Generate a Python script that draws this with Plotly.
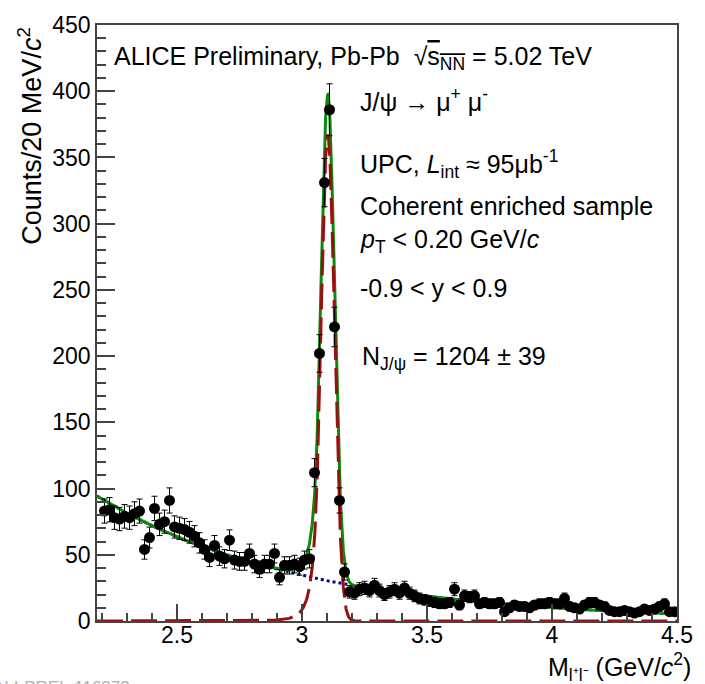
import numpy as np
import plotly.graph_objects as go

# Dimuon invariant-mass spectrum, 20 MeV/c^2 bins from 2.20 to 4.50 GeV/c^2
N_BINS = 115
mass = np.round(2.21 + 0.02 * np.arange(N_BINS), 2)

counts = [
    83, 84, 78, 77, 79, 78, 81, 83, 54, 63,
    85, 73, 75, 91, 71, 70, 69, 67, 64, 59,
    54, 48, 57, 49, 47, 61, 46, 45, 45, 51,
    43, 39, 43, 43, 51, 33, 42, 42, 43, 41,
    46, 47, 112, 202, 331, 386, 222, 91, 37, 22,
    21, 24, 25, 23, 27, 23, 20, 22, 24, 21,
    25, 21, 19, 17, 16, 15, 14, 13, 13, 14,
    24, 12, 19, 18, 19, 13, 14, 13, 13, 14,
    7, 10, 12, 11, 11, 10, 12, 13, 13, 14,
    13, 13, 17, 11, 10, 9, 12, 14, 14, 12,
    11, 8, 7, 7, 8, 7, 6, 7, 9, 8,
    9, 11, 13, 7, 7,
]

count_errors = [
    9.1, 9.2, 8.8, 8.8, 8.9, 8.8, 9.0, 9.1, 7.3, 7.9,
    9.2, 8.5, 8.7, 9.5, 8.4, 8.4, 8.3, 8.2, 8.0, 7.7,
    7.3, 6.9, 7.5, 7.0, 6.9, 7.8, 6.8, 6.7, 6.7, 7.1,
    6.6, 6.2, 6.6, 6.6, 7.1, 5.7, 6.5, 6.5, 6.6, 6.4,
    6.8, 6.9, 10.6, 14.2, 18.2, 19.6, 14.9, 9.5, 6.1, 4.7,
    4.6, 4.9, 5.0, 4.8, 5.2, 4.8, 4.5, 4.7, 4.9, 4.6,
    5.0, 4.6, 4.4, 4.1, 4.0, 3.9, 3.7, 3.6, 3.6, 3.7,
    4.9, 3.5, 4.4, 4.2, 4.4, 3.6, 3.7, 3.6, 3.6, 3.7,
    2.6, 3.2, 3.5, 3.3, 3.3, 3.2, 3.5, 3.6, 3.6, 3.7,
    3.6, 3.6, 4.1, 3.3, 3.2, 3.0, 3.5, 3.7, 3.7, 3.5,
    3.3, 2.8, 2.6, 2.6, 2.8, 2.6, 2.4, 2.6, 3.0, 2.8,
    3.0, 3.3, 3.6, 2.6, 2.6,
]

# Fit model: Crystal Ball signal + exponential background
cb_amplitude = 367.0
cb_mean = 3.103
cb_sigma = 0.027
cb_alpha = 1.5
cb_n = 5.0
bkg_norm = 92.0
bkg_slope = 1.23
bkg_ref = 2.2

M_MIN, M_MAX = 2.18, 4.5


def crystal_ball(x):
    t = (x - cb_mean) / cb_sigma
    a = (cb_n / cb_alpha) ** cb_n * np.exp(-0.5 * cb_alpha ** 2)
    b = cb_n / cb_alpha - cb_alpha
    core = np.exp(-0.5 * t ** 2)
    tail = a * np.power(np.clip(b - t, 1e-9, None), -cb_n)
    return cb_amplitude * np.where(t > -cb_alpha, core, tail)


def background(x):
    return bkg_norm * np.exp(-bkg_slope * (x - bkg_ref))


x_fine = np.linspace(M_MIN, M_MAX, 2321)
y_sig = crystal_ball(x_fine)
y_bkg = background(x_fine)
y_tot = y_sig + y_bkg

FONT = "Liberation Sans, Arial, Helvetica, sans-serif"

fig = go.Figure()

fig.add_trace(go.Scatter(
    x=x_fine, y=y_bkg, mode="lines",
    line=dict(color="#0a0a8c", width=3, dash="dot"),
    hoverinfo="skip", showlegend=False,
))
fig.add_trace(go.Scatter(
    x=x_fine, y=y_tot, mode="lines",
    line=dict(color="#0b8a0b", width=3),
    hoverinfo="skip", showlegend=False,
))
fig.add_trace(go.Scatter(
    x=x_fine, y=y_sig, mode="lines",
    line=dict(color="#9a1010", width=3, dash="26px,8px"),
    hoverinfo="skip", showlegend=False,
))
fig.add_trace(go.Scatter(
    x=mass, y=counts, mode="markers",
    marker=dict(color="black", size=11, symbol="circle"),
    error_y=dict(type="data", array=count_errors, visible=True,
                 color="black", thickness=1, width=3),
    showlegend=False,
))

axis_common = dict(
    showline=True, linecolor="#444", linewidth=1.5, mirror=True,
    ticks="inside", tickcolor="#444", tickwidth=1.5,
    showgrid=False, zeroline=False,
    tickfont=dict(family=FONT, size=23, color="black"),
)

fig.update_xaxes(
    range=[M_MIN, M_MAX], tick0=2.5, dtick=0.5, ticklen=17,
    ticklabelstandoff=-7,
    minor=dict(tick0=2.2, dtick=0.1, ticklen=8, ticks="inside",
               tickcolor="#444", tickwidth=1.5, showgrid=False),
    **axis_common,
)
fig.update_yaxes(
    range=[0, 450], tick0=0, dtick=50, ticklen=18,
    minor=dict(dtick=10, ticklen=9, ticks="inside",
               tickcolor="#444", tickwidth=1.5, showgrid=False),
    **axis_common,
)

TXT = dict(family=FONT, size=25, color="black")


def label(text, x, y, xanchor="left", yanchor="middle", **kw):
    fig.add_annotation(text=text, x=x, y=y, xref="paper", yref="paper",
                       xanchor=xanchor, yanchor=yanchor, showarrow=False,
                       font=kw.pop("font", TXT), **kw)


label("ALICE Preliminary, Pb-Pb  \u221a<span style='text-decoration:overline'>s<sub>NN</sub></span> = 5.02 TeV",
      0.025, 0.945)
label("J/\u03c8 \u2192 \u03bc<sup>+</sup> \u03bc<sup>-</sup>", 0.450, 0.874)
label("UPC, <i>L</i><sub>int</sub> \u2248 95\u03bcb<sup>-1</sup>", 0.450, 0.767)
label("Coherent enriched sample", 0.450, 0.696)
label("<i>p</i><sub>T</sub> &lt; 0.20 GeV/<i>c</i>", 0.450, 0.638)
label("-0.9 &lt; y &lt; 0.9", 0.450, 0.558)
label("N<sub>J/\u03c8</sub> = 1204 \u00b1 39", 0.454, 0.441)

# Axis titles
label("Counts/20 MeV/<i>c</i><sup>2</sup>", -0.116, 1.0,
      xanchor="center", yanchor="top", textangle=-90,
      font=dict(family=FONT, size=27, color="black"))
label("M<sub>l\u207al\u207b</sub> (GeV/<i>c</i><sup>2</sup>)", 1.0255, -0.077,
      xanchor="right", yanchor="middle", borderpad=0,
      font=dict(family=FONT, size=25, color="black"))

label("ALI-PREL-116373", 0.06, -0.112, xanchor="right",
      font=dict(family=FONT, size=17, color="#b0b0b0"))

fig.update_layout(
    width=705, height=684,
    margin=dict(l=97, r=20, t=15, b=63),
    plot_bgcolor="white", paper_bgcolor="white",
)

fig.write_html("out.html")
